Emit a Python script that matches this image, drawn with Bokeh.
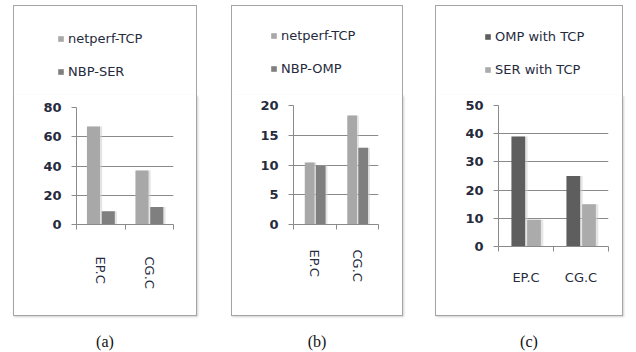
from bokeh.plotting import figure
from bokeh.models import (FactorRange, Range1d, LinearAxis, CategoricalAxis, FixedTicker,
                          Legend, LegendItem, Div, ColumnDataSource, CustomJSTickFormatter)
from bokeh.transform import dodge
from bokeh.layouts import row, column
from bokeh.core.properties import value
from bokeh.embed import file_html
from bokeh.resources import INLINE

# ---------------- data ----------------
categories = ["EP.C", "CG.C"]

a_labels = ["netperf-TCP", "NBP-SER"]
a_netperf_tcp = [67, 37]
a_nbp_ser = [9, 12]
a_ticks = [0, 20, 40, 60, 80]

b_labels = ["netperf-TCP", "NBP-OMP"]
b_netperf_tcp = [10.4, 18.3]
b_nbp_omp = [9.9, 12.9]
b_ticks = [0, 5, 10, 15, 20]

c_labels = ["OMP with TCP", "SER with TCP"]
c_omp_tcp = [39, 25]
c_ser_tcp = [9.5, 15]
c_ticks = [0, 10, 20, 30, 40, 50]

captions = ["(a)", "(b)", "(c)"]

FONT = "DejaVu Sans"
GRID = "#8a8a8a"
TEXT = "#262a3d"
BORDER = "1px solid #a4a4a4"
LEG_H = 90


def make_panel(labels, series, colors, offsets, bar_w, ticks, W, H, mb, rotated,
               cat_standoff, legend_loc, caption):
    data = {"cat": categories}
    for i, s in enumerate(series):
        data["s%d" % i] = s
    src = ColumnDataSource(data)

    # ---- chart area ----
    p = figure(width=W, height=H - LEG_H, x_range=FactorRange(*categories, range_padding=0),
               y_range=Range1d(0, ticks[-1]), x_axis_location=None,
               toolbar_location=None, output_backend="svg",
               min_border_left=mb[0], min_border_right=mb[1],
               min_border_top=mb[2] - LEG_H, min_border_bottom=mb[3],
               background_fill_color="white", border_fill_color="white",
               styles={"border-left": BORDER, "border-right": BORDER,
                       "border-bottom": BORDER,
                       "box-shadow": "1px 1px 2px #d0d0d0"})
    p.outline_line_color = None
    p.xgrid.visible = False
    ticker = FixedTicker(ticks=ticks, minor_ticks=[])
    p.yaxis.ticker = ticker
    p.ygrid.ticker = ticker
    p.ygrid.grid_line_color = GRID
    p.yaxis.axis_line_color = GRID
    p.yaxis.major_tick_line_color = GRID
    p.yaxis.major_tick_out = 5
    p.yaxis.major_tick_in = 0
    p.yaxis.minor_tick_line_color = None
    p.yaxis.major_label_standoff = 10
    p.yaxis.major_label_text_font = FONT
    p.yaxis.major_label_text_font_style = "bold"
    p.yaxis.major_label_text_font_size = "13px"
    p.yaxis.major_label_text_color = TEXT

    # tick marks between categories (Excel style), on the categorical range's
    # synthetic coordinates (category boundaries 0, 1, 2)
    slot_axis = LinearAxis(ticker=FixedTicker(ticks=list(range(len(categories) + 1)),
                                              minor_ticks=[]),
                           formatter=CustomJSTickFormatter(code="return ''"),
                           major_label_standoff=0,
                           major_tick_out=5, major_tick_in=0,
                           axis_line_color=GRID, major_tick_line_color=GRID,
                           minor_tick_line_color=None)
    p.add_layout(slot_axis, "below")
    cat_axis = CategoricalAxis(axis_line_color=None, major_tick_line_color=None,
                               minor_tick_line_color=None,
                               major_label_standoff=cat_standoff,
                               major_label_text_font=FONT,
                               major_label_text_font_size="13px",
                               major_label_text_color=TEXT,
                               major_label_orientation="vertical" if rotated else "horizontal")
    p.add_layout(cat_axis, "below")

    # soft shadows
    for i in range(len(series)):
        p.vbar(x=dodge("cat", offsets[i] + 0.045, range=p.x_range), top="s%d" % i,
               width=bar_w, source=src, fill_color="#cfcfcf", fill_alpha=0.55,
               line_color=None)
    for i in range(len(series)):
        p.vbar(x=dodge("cat", offsets[i], range=p.x_range), top="s%d" % i,
               width=bar_w, source=src, fill_color=colors[i], line_color=None)

    # ---- legend strip (top of the chart box) ----
    lf = figure(width=W, height=LEG_H, x_range=FactorRange(*categories, range_padding=0),
                y_range=Range1d(0, 1), x_axis_location=None, y_axis_location=None,
                toolbar_location=None, output_backend="svg",
                min_border=0, min_border_left=0, min_border_right=0,
                min_border_top=0, min_border_bottom=0,
                background_fill_color="white", border_fill_color="white",
                styles={"border-left": BORDER, "border-right": BORDER,
                        "border-top": BORDER})
    lf.outline_line_color = None
    lf.xgrid.visible = False
    lf.ygrid.visible = False
    items = []
    for i in range(len(series)):
        r = lf.vbar(x=dodge("cat", offsets[i], range=lf.x_range), top="s%d" % i,
                    width=bar_w, source=src, fill_color=colors[i], line_color=None,
                    visible=False)
        items.append(LegendItem(label=value(labels[i]), renderers=[r]))
    leg = Legend(items=items, location=legend_loc, border_line_color=None,
                 background_fill_alpha=0, padding=0, margin=0,
                 glyph_width=7, glyph_height=7, label_height=15,
                 label_standoff=4, spacing=18, click_policy="none",
                 label_text_font=FONT, label_text_font_size="13px",
                 label_text_color=TEXT)
    lf.add_layout(leg)

    cap = Div(text='<div style="position:relative; top:15px; text-align:center; '
                   'font-family:\'Liberation Serif\'; font-size:16px; color:#111; '
                   'width:%dpx">%s</div>' % (W, caption), width=W, height=30,
              margin=0)
    # the legend strip is wrapped in its own row so that its frame is not
    # aligned with the chart frame below it
    return [row(lf), p, cap]


pa = make_panel(a_labels, [a_netperf_tcp, a_nbp_ser], ["#a8a8a8", "#7f7f7f"],
                [-0.15, 0.155], 0.27, a_ticks, 184, 311, (62, 25, 102, 92), True,
                21, (43, 17), captions[0])
pb = make_panel(b_labels, [b_netperf_tcp, b_nbp_omp], ["#a8a8a8", "#7f7f7f"],
                [-0.12, 0.14], 0.23, b_ticks, 172, 311, (61, 26, 100, 92), True,
                14, (38, 20), captions[1])
pc = make_panel(c_labels, [c_omp_tcp, c_ser_tcp], ["#5e5e5e", "#ababab"],
                [-0.14, 0.145], 0.25, c_ticks, 188, 311, (62, 16, 100, 70), False,
                12, (48, 19), captions[2])

layout = row(column(*pa, margin=(5, 0, 0, 13)),
             column(*pb, margin=(5, 0, 0, 34)),
             column(*pc, margin=(5, 0, 0, 32)))

open("out.html", "w").write(file_html(layout, INLINE))
